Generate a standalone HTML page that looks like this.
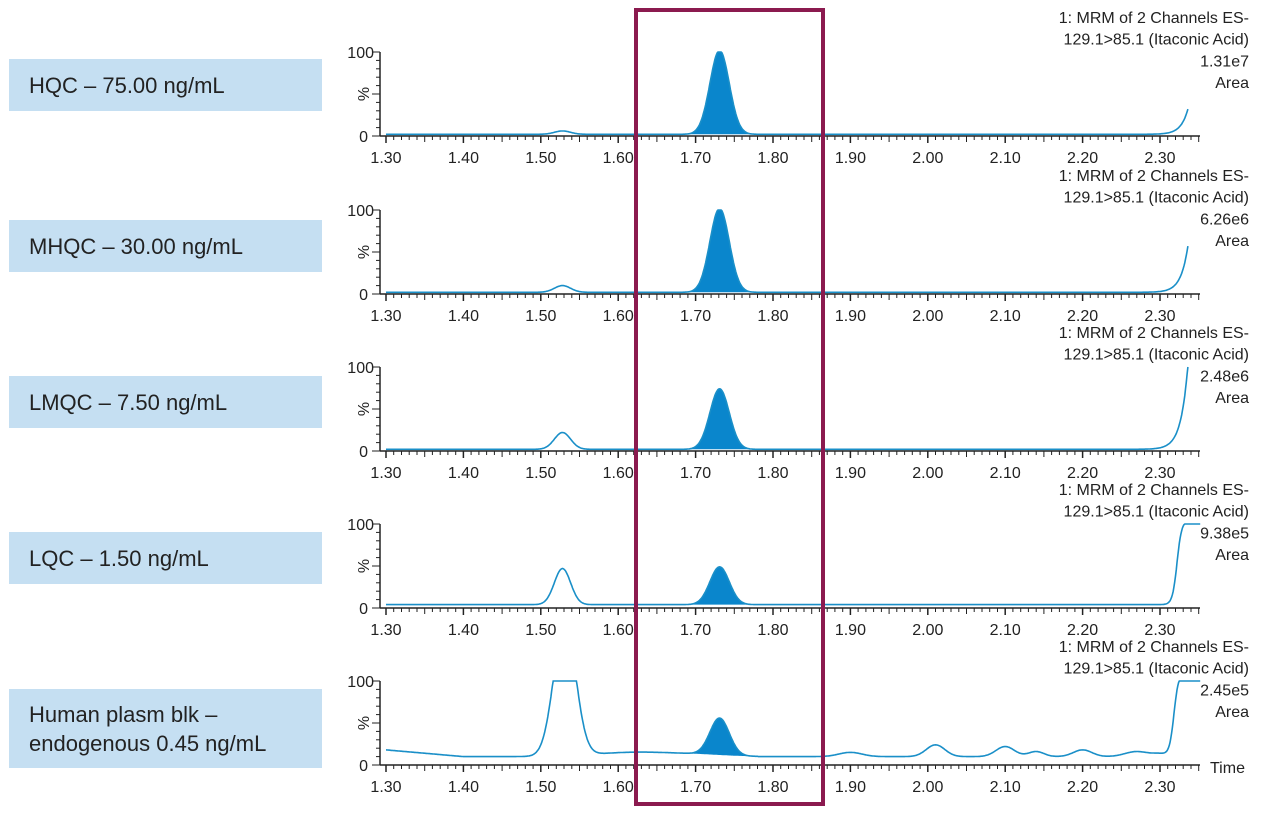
<!DOCTYPE html>
<html><head><meta charset="utf-8"><style>
body{margin:0;background:#fff;width:1280px;height:817px;overflow:hidden;font-family:"Liberation Sans",sans-serif}
.box{position:absolute;left:9px;width:313px;background:#c5dff2;color:#222;font-size:22px;display:flex;align-items:center;padding-left:20px;box-sizing:border-box;line-height:29px}
</style></head><body>
<div class="box" style="top:59px;height:52px">HQC – 75.00 ng/mL</div>
<div class="box" style="top:220px;height:52px">MHQC – 30.00 ng/mL</div>
<div class="box" style="top:376px;height:52px">LMQC – 7.50 ng/mL</div>
<div class="box" style="top:532px;height:52px">LQC – 1.50 ng/mL</div>
<div class="box" style="top:689px;height:79px">Human plasm blk –<br>endogenous 0.45 ng/mL</div>
<svg id="s" width="1280" height="817" style="position:absolute;left:0;top:0"></svg>
<script>
var S=document.getElementById('s'),h='';
function X(t){return 386+(t-1.3)*774}
function g(t,m,s){return Math.exp(-0.5*Math.pow((t-m)/s,2))}
var P=[
 {z:136,main:100,small:4,base:2,end:30,sat:false,info:'1.31e7'},
 {z:294,main:100,small:8,base:2,end:55,sat:false,info:'6.26e6'},
 {z:451,main:72,small:20,base:2,end:100,sat:false,info:'2.48e6'},
 {z:608,main:45,small:43,base:4,end:100,sat:true,info:'9.38e5'},
 {z:765,main:44,small:0,base:0,end:100,sat:true,info:'2.45e5',blk:true}];
function base5(t){
 var b=14;
 if(t<1.4)b=18-(t-1.3)*80; else b=10;
 b+=5*g(t,1.62,0.05)+2*g(t,1.7,0.04);
 if(t>1.78)b=10;
 b+=14*g(t,2.01,0.012)+12*g(t,2.1,0.012)+6*g(t,2.14,0.01)+8*g(t,2.2,0.012)+6*g(t,2.27,0.015)+3*g(t,2.3,0.01);
 b+=5*g(t,1.9,0.015);
 return b;
}
P.forEach(function(p,i){
 var z=p.z,k=0.84,pts=[],fill=[];
 for(var t=1.3;t<=2.336;t+=0.001){
  var b=p.blk?base5(t):p.base;
  var v=b+p.main*g(t,1.731,0.0125);
  if(p.blk){v+=Math.min(1,1.8*g(t,1.531,0.014))*(100-b);}
  else v+=p.small*g(t,1.528,0.0105);
  var e=p.end*Math.exp((t-2.336)/0.009);
  if(p.sat){e=100/(1+Math.exp(-(t-(p.blk?2.318:2.322))/0.003));}
  v=Math.min(100,v+e);
  pts.push(X(t).toFixed(1)+','+(z-v*k).toFixed(1));
  if(t>1.69&&t<1.775)fill.push([X(t),z-v*k,z-b*k]);
 }
 if(p.sat)pts.push(X(2.352).toFixed(1)+','+(z-100*k));
 var fp='M'+fill.map(function(f){return f[0].toFixed(1)+','+f[1].toFixed(1)}).join('L');
 for(var j=fill.length-1;j>=0;j--)fp+='L'+fill[j][0].toFixed(1)+','+fill[j][2].toFixed(1);
 h+='<path d="'+fp+'Z" fill="#0a86cc"/>';
 h+='<polyline points="'+pts.join(' ')+'" fill="none" stroke="#1a8fc8" stroke-width="1.6"/>';
 h+='<line x1="380" y1="'+(z-84)+'" x2="380" y2="'+z+'" stroke="#222" stroke-width="1.5"/>';
 h+='<line x1="380" y1="'+z+'" x2="1200" y2="'+z+'" stroke="#222" stroke-width="1.5"/>';
 for(var y=0;y<=10;y++){var yy=z-y*8.4;h+='<line x1="'+(y%5==0?372:376)+'" y1="'+yy+'" x2="380" y2="'+yy+'" stroke="#222"/>';}
 h+='<text x="368" y="'+(z+6)+'" text-anchor="end" font-size="16" fill="#222">0</text>';
 h+='<text x="374" y="'+(z-78)+'" text-anchor="end" font-size="16" fill="#222">100</text>';
 h+='<text transform="translate(369,'+(z-42)+') rotate(-90)" text-anchor="middle" font-size="16" fill="#222">%</text>';
 for(var m=0;m<=105;m++){var t2=1.3+m*0.01,xx=X(t2);if(xx>1200)break;
  var L=(m%10==0)?7:(m%5==0?6:4);
  h+='<line x1="'+xx.toFixed(1)+'" y1="'+z+'" x2="'+xx.toFixed(1)+'" y2="'+(z+L)+'" stroke="#222" stroke-width="'+(m%10==0?1.5:1)+'"/>';
  if(m%10==0)h+='<text x="'+xx.toFixed(1)+'" y="'+(z+27)+'" text-anchor="middle" font-size="16" fill="#222">'+t2.toFixed(2)+'</text>';}
 var ty=z-113;
 ['1: MRM of 2 Channels ES-','129.1>85.1 (Itaconic Acid)',p.info,'Area'].forEach(function(s,q){
  h+='<text x="1249" y="'+(ty+q*21.7)+'" text-anchor="end" font-size="16" fill="#222">'+s.replace('>','&gt;')+'</text>';});
 if(p.blk)h+='<text x="1210" y="'+(z+8)+'" font-size="16" fill="#222">Time</text>';
});
h+='<rect x="636" y="10" width="187" height="794" fill="none" stroke="#8b1a4f" stroke-width="4"/>';
S.innerHTML=h;
</script>
</body></html>
